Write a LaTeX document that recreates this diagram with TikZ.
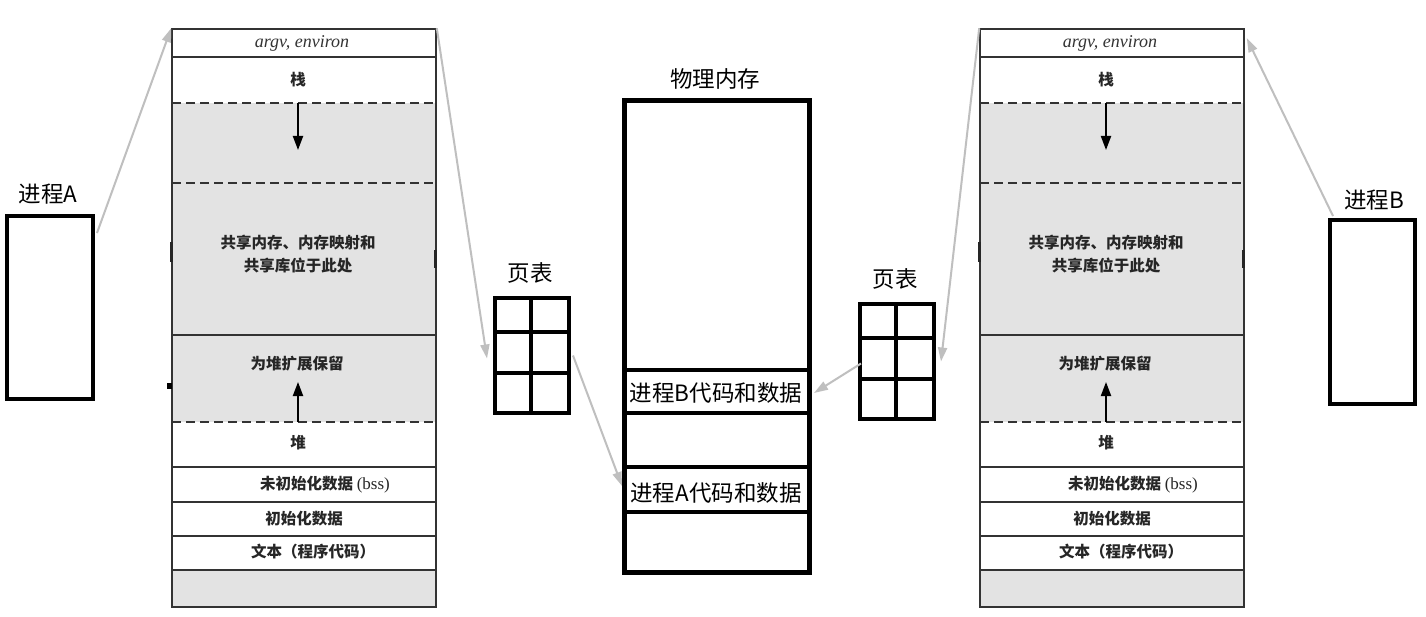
\documentclass[tikz,border=0pt]{standalone}
\usepackage{fontspec}
\setmainfont{Liberation Serif}
\newfontfamily\cjk{Noto Sans CJK SC}
\usetikzlibrary{arrows.meta,calc}
\tikzset{
  lbl/.style={font=\cjk\fontsize{22.5}{24}\selectfont, inner sep=0pt},
  segtext/.style={font=\cjk\bfseries\fontsize{15.5}{23}\selectfont, inner sep=0pt, text=black!85},
  argvtext/.style={font=\rmfamily\itshape\fontsize{18}{20}\selectfont, inner sep=0pt, text=black!80},
  thickbox/.style={draw=black, line width=4pt, inner sep=0pt, fill=white},
  membox/.style={draw=black, line width=5pt, inner sep=0pt},
  laybox/.style={draw=black!80, line width=1.6pt, inner sep=0pt},
  segline/.style={draw=black!80, line width=1.6pt},
  dashline/.style={draw=black!80, line width=1.8pt, dash pattern=on 9pt off 5pt},
  growarrow/.style={draw=black, line width=2pt, -{Triangle[length=14pt,width=10pt]}},
  mapline/.style={draw=black!25, line width=2pt, -{Triangle[length=14pt,width=9pt]}},
}
\newcommand\vmlayout[2]{%
\begin{scope}[xshift=#2pt]
  \fill[gray!22] (172,103) rectangle (436,422);
  \fill[gray!22] (172,570) rectangle (436,607);
  \node[laybox, minimum width=264pt, minimum height=578pt] (#1lay) at (304,318) {};
  \draw[segline] (172,57) -- (436,57);
  \draw[segline] (172,335) -- (436,335);
  \draw[segline] (172,467) -- (436,467);
  \draw[segline] (172,502) -- (436,502);
  \draw[segline] (172,536) -- (436,536);
  \draw[segline] (172,570) -- (436,570);
  \draw[dashline] (172,103) -- (436,103);
  \draw[dashline] (172,183) -- (436,183);
  \draw[dashline] (172,422) -- (436,422);
  \draw[draw=black!85, line width=3pt] (171,242) -- (171,262);
  \draw[draw=black!85, line width=3pt] (435,250) -- (435,268);
  \coordinate (#1stackfrom) at (298,103);
  \coordinate (#1stackto) at (298,150);
  \coordinate (#1heapfrom) at (298,422);
  \coordinate (#1heapto) at (298,382);
  \draw[growarrow] (#1stackfrom) -- (#1stackto);
  \draw[growarrow] (#1heapfrom) -- (#1heapto);
  \node[argvtext] (#1argv) at (302,43) {argv, environ};
  \node[segtext] (#1stack) at (298,80) {栈};
  \node[segtext, align=center] (#1shared) at (298,254) {共享内存、内存映射和\\共享库位于此处};
  \node[segtext] (#1reserve) at (297,364) {为堆扩展保留};
  \node[segtext] (#1heap) at (298,443) {堆};
  \node[segtext] (#1bss) at (325,485) {未初始化数据 {\rmfamily\mdseries\fontsize{17}{20}\selectfont(bss)}};
  \node[segtext] (#1data) at (304,519) {初始化数据};
  \node[segtext] (#1text) at (313,552) {文本（程序代码）};
\end{scope}}
\begin{document}
\begin{tikzpicture}[x=1pt,y=-1pt]
\useasboundingbox (0,0) rectangle (1426,617);
\fill[white] (0,0) rectangle (1426,617);

% virtual memory layouts
\vmlayout{L}{0}
\vmlayout{R}{808}
\fill[black] (167,383) rectangle (172,389);

% processes
\node[thickbox, minimum width=86pt, minimum height=183pt] (procA) at (50,307.5) {};
\node[lbl] (procAlbl) at (48,194) {进程A};
\node[thickbox, minimum width=85pt, minimum height=184pt] (procB) at (1372.5,312) {};
\node[lbl] (procBlbl) at (1374,200) {进程B};

% page tables
\node[thickbox, minimum width=74pt, minimum height=115pt] (pgA) at (532,355.5) {};
\draw[line width=4pt] (495,332) -- (569,332);
\draw[line width=4pt] (495,373) -- (569,373);
\draw[line width=4pt] (531,298) -- (531,413);
\node[lbl] (pgAlbl) at (530,273) {页表};

\node[thickbox, minimum width=74pt, minimum height=115pt] (pgB) at (897,361.5) {};
\draw[line width=4pt] (860,338) -- (934,338);
\draw[line width=4pt] (860,379) -- (934,379);
\draw[line width=4pt] (896,304) -- (896,419);
\node[lbl] (pgBlbl) at (895,279) {页表};

% physical memory
\node[membox, minimum width=185pt, minimum height=472pt] (mem) at (717,336.5) {};
\draw[line width=4pt] (624.5,370) -- (809.5,370);
\draw[line width=4pt] (624.5,413) -- (809.5,413);
\draw[line width=4pt] (624.5,467) -- (809.5,467);
\draw[line width=4pt] (624.5,512) -- (809.5,512);
\node[lbl] (memlbl) at (715,79) {物理内存};
\node[lbl] (memB) at (716,393) {进程B代码和数据};
\node[lbl] (memA) at (716,493) {进程A代码和数据};

% mappings
\draw[mapline] ($(procA.north east)+(2,19)$) -- (Llay.north west);
\draw[mapline] (Llay.north east) -- ($(pgA.west)+(-6,3)$);
\draw[mapline] ($(pgA.east)+(2,0)$) -- ($(mem.west|-memA)+(0,-7)$);
\draw[mapline] ($(pgB.west)+(3,2)$) -- ($(mem.east|-memB)+(2,0)$);
\draw[mapline] (Rlay.north west) -- ($(pgB.east)+(5,0)$);
\draw[mapline] ($(procB.north west)+(5,-2)$) -- ($(Rlay.north east)+(2,10)$);
\end{tikzpicture}
\end{document}
